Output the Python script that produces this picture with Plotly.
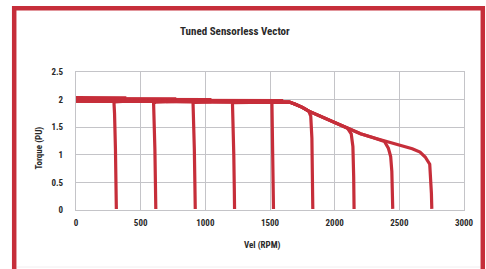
import plotly.graph_objects as go

# Data (speed in RPM, torque in PU)
trace1_speed = [0, 377, 377, 300, 294, 298, 305, 309, 312]
trace1_torque = [2.035, 2.03, 1.97, 1.96, 1.93, 1.75, 1.1, 0.5, 0.02]

trace2_speed = [0, 763, 763, 615, 600, 604, 610, 614, 617]
trace2_torque = [2.02, 2.015, 1.965, 1.955, 1.93, 1.7, 1.1, 0.5, 0.02]

trace3_speed = [0, 1035, 1035, 915, 905, 909, 915, 919, 922]
trace3_torque = [2.005, 2.0, 1.96, 1.95, 1.93, 1.7, 1.1, 0.5, 0.02]

trace4_speed = [0, 1590, 1590, 1215, 1210, 1215, 1220, 1224, 1226]
trace4_torque = [1.99, 1.98, 1.96, 1.945, 1.92, 1.6, 1.0, 0.4, 0.02]

trace5_speed = [0, 800, 1505, 1515, 1520, 1524, 1527]
trace5_torque = [1.975, 1.97, 1.965, 1.93, 1.4, 0.7, 0.02]

trace6_speed = [0, 800, 1600, 1650, 1700, 1750, 1800, 1815, 1824, 1828, 1831]
trace6_torque = [1.975, 1.97, 1.965, 1.955, 1.91, 1.86, 1.79, 1.7, 1.3, 0.6, 0.02]

trace7_speed = [0, 800, 1600, 1650, 1700, 1750, 1800, 1850, 1900, 2000, 2100, 2128, 2141, 2147, 2150]
trace7_torque = [1.975, 1.97, 1.965, 1.955, 1.91, 1.86, 1.79, 1.74, 1.69, 1.58, 1.48, 1.38, 1.15, 0.6, 0.02]

trace8_speed = [0, 800, 1600, 1650, 1700, 1750, 1800, 1850, 1900, 2000, 2100, 2150, 2200, 2300, 2385, 2415, 2433, 2442, 2446, 2449]
trace8_torque = [1.975, 1.97, 1.965, 1.955, 1.91, 1.86, 1.79, 1.74, 1.69, 1.58, 1.48, 1.43, 1.38, 1.31, 1.24, 1.12, 0.97, 0.7, 0.3, 0.02]

trace9_speed = [0, 800, 1600, 1650, 1700, 1750, 1800, 1850, 1900, 2000, 2100, 2150, 2200, 2300, 2400, 2500, 2600, 2660, 2700, 2735, 2743, 2748, 2751]
trace9_torque = [1.975, 1.97, 1.965, 1.955, 1.91, 1.86, 1.79, 1.74, 1.69, 1.58, 1.48, 1.43, 1.38, 1.31, 1.24, 1.17, 1.11, 1.05, 0.96, 0.83, 0.6, 0.3, 0.02]

speeds = [trace1_speed, trace2_speed, trace3_speed, trace4_speed, trace5_speed,
          trace6_speed, trace7_speed, trace8_speed, trace9_speed]
torques = [trace1_torque, trace2_torque, trace3_torque, trace4_torque, trace5_torque,
           trace6_torque, trace7_torque, trace8_torque, trace9_torque]

x_ticks = [0, 500, 1000, 1500, 2000, 2500, 3000]
y_ticks = [0, 0.5, 1, 1.5, 2, 2.5]

RED = "#C62E3A"
FONT = "Liberation Sans Narrow, Arial Narrow, Roboto Condensed, Liberation Sans, sans-serif"
TXT = "#2a2a2a"
GRID = "#c4c4c8"

fig = go.Figure()
for sp, tq in zip(speeds, torques):
    fig.add_trace(go.Scatter(x=sp, y=tq, mode="lines",
                             line=dict(color=RED, width=3.2), showlegend=False,
                             hoverinfo="skip"))

W, H = 486, 269
L, R, T, B = 76, 22, 72, 59
pw, ph = W - L - R, H - T - B

def px_x(p):
    return (p - L) / pw

def px_y(p):
    return (H - B - p) / ph

fig.update_layout(
    width=W, height=H,
    margin=dict(l=L, r=R, t=T, b=B, pad=0),
    paper_bgcolor="white", plot_bgcolor="white",
    font=dict(family=FONT, color=TXT, size=9),
    xaxis=dict(range=[0, 3000], tickvals=x_ticks, ticktext=[str(v) for v in x_ticks],
               showgrid=True, gridcolor=GRID, gridwidth=1.2, zeroline=False,
               showline=True, linecolor=GRID, linewidth=1.2, mirror=True,
               ticks="", ticklabelstandoff=4,
               tickfont=dict(family=FONT, size=9, color=TXT, weight="bold")),
    yaxis=dict(range=[0, 2.5], tickvals=y_ticks, ticktext=["0", "0.5", "1", "1.5", "2", "2.5"],
               showgrid=True, gridcolor=GRID, gridwidth=1.2, zeroline=False,
               showline=True, linecolor=GRID, linewidth=1.2, mirror=True,
               ticks="", ticklabelstandoff=10,
               tickfont=dict(family=FONT, size=9, color=TXT, weight="bold")),
    shapes=[
        dict(type="line", xref="paper", yref="paper", layer="above",
             x0=px_x(14.2), x1=px_x(14.2), y0=px_y(6), y1=px_y(275),
             line=dict(color=RED, width=4.5)),
        dict(type="line", xref="paper", yref="paper", layer="above",
             x0=px_x(12), x1=px_x(485), y0=px_y(8.2), y1=px_y(8.2),
             line=dict(color=RED, width=4.5)),
        dict(type="line", xref="paper", yref="paper", layer="above",
             x0=px_x(482.8), x1=px_x(482.8), y0=px_y(6), y1=px_y(275),
             line=dict(color=RED, width=4.5)),
        dict(type="line", xref="paper", yref="paper", layer="below",
             x0=px_x(17), x1=px_x(480), y0=px_y(267), y1=px_y(267),
             line=dict(color="#f2eef0", width=1)),
    ],
    annotations=[
        dict(text="Tuned Sensorless Vector", xref="paper", yref="paper",
             x=px_x(235), y=px_y(31), xanchor="center", yanchor="middle",
             showarrow=False, font=dict(family=FONT, size=11, color=TXT, weight="bold")),
        dict(text="Vel (RPM)", xref="paper", yref="paper",
             x=px_x(262), y=px_y(245.5), xanchor="center", yanchor="middle",
             showarrow=False, font=dict(family=FONT, size=9, color=TXT, weight="bold")),
        dict(text="Torque (PU)", xref="paper", yref="paper",
             x=px_x(38.5), y=px_y(148), xanchor="center", yanchor="middle",
             textangle=-90,
             showarrow=False, font=dict(family=FONT, size=9, color=TXT, weight="bold")),
    ],
)

fig.write_html("out.html", config={"displayModeBar": False},
               post_script="document.body.style.margin='0';document.body.style.overflow='hidden';")
